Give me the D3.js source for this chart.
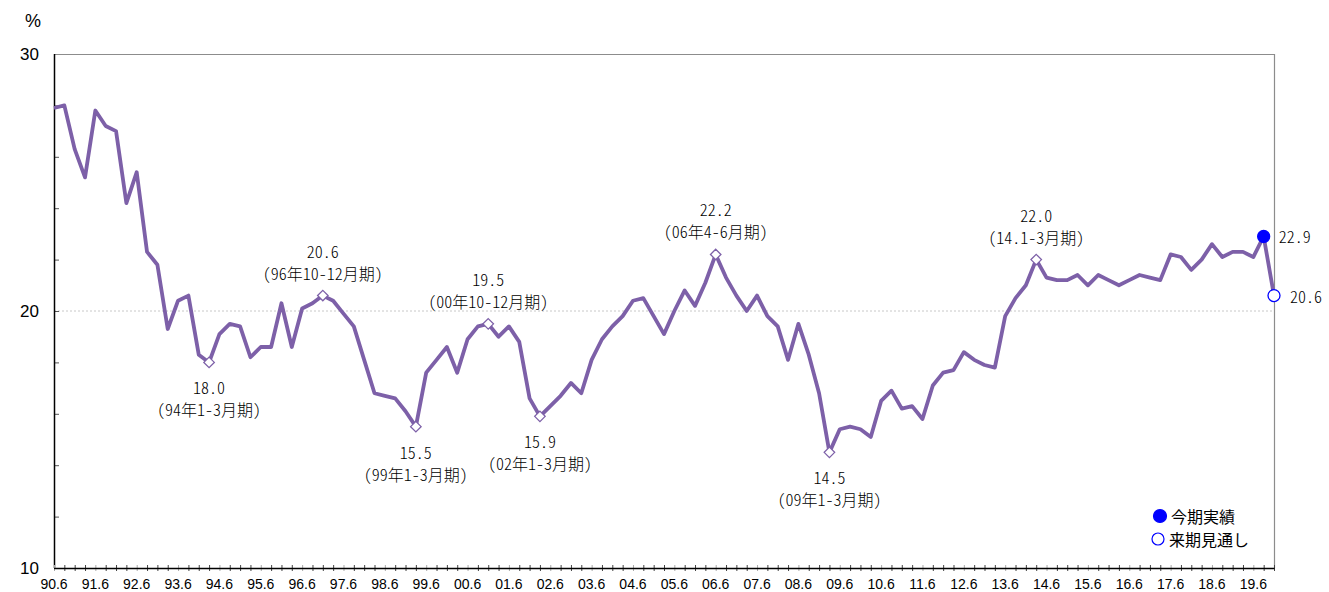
<!DOCTYPE html>
<html>
<head>
<meta charset="utf-8">
<script src="https://cdn.jsdelivr.net/npm/d3@7"></script>
<style>
  body { margin: 0; background: #fff; }
  svg { display: block; }
  .num { font-family: "Liberation Sans", Arial, sans-serif; fill: #000; }
  .ann { font-family: "Noto Sans CJK JP", sans-serif; font-feature-settings: "hwid" 1; font-weight: 300; fill: #000; }
  .jp { font-family: "Noto Sans CJK JP", sans-serif; fill: #000; }
</style>
</head>
<body>
<script>
// Quarterly ratio (%), from 1990 Apr-Jun through the next-quarter outlook
const ratios = [
  27.9, 28.0, 26.3, 25.2, 27.8, 27.2, 27.0, 24.2, 25.4, 22.3,
  21.8, 19.3, 20.4, 20.6, 18.3, 18.0, 19.1, 19.5, 19.4, 18.2,
  18.6, 18.6, 20.3, 18.6, 20.1, 20.3, 20.6, 20.4, 19.9, 19.4,
  18.1, 16.8, 16.7, 16.6, 16.1, 15.5, 17.6, 18.1, 18.6, 17.6,
  18.9, 19.4, 19.5, 19.0, 19.4, 18.8, 16.6, 15.9, 16.3, 16.7,
  17.2, 16.8, 18.1, 18.9, 19.4, 19.8, 20.4, 20.5, 19.8, 19.1,
  20.0, 20.8, 20.2, 21.1, 22.2, 21.3, 20.6, 20.0, 20.6, 19.8,
  19.4, 18.1, 19.5, 18.3, 16.8, 14.5, 15.4, 15.5, 15.4, 15.1,
  16.5, 16.9, 16.2, 16.3, 15.8, 17.1, 17.6, 17.7, 18.4, 18.1,
  17.9, 17.8, 19.8, 20.5, 21.0, 22.0, 21.3, 21.2, 21.2, 21.4,
  21.0, 21.4, 21.2, 21.0, 21.2, 21.4, 21.3, 21.2, 22.2, 22.1,
  21.6, 22.0, 22.6, 22.1, 22.3, 22.3, 22.1, 22.9, 20.6
];

// Axis labels: one per year at the Apr-Jun quarter
const xTickLabels = [
  "90.6", "91.6", "92.6", "93.6", "94.6", "95.6", "96.6", "97.6", "98.6", "99.6",
  "00.6", "01.6", "02.6", "03.6", "04.6", "05.6", "06.6", "07.6", "08.6", "09.6",
  "10.6", "11.6", "12.6", "13.6", "14.6", "15.6", "16.6", "17.6", "18.6", "19.6"
];
const yTickLabels = [10, 20, 30];

// Turning points that carry a value and period note
const peakIndex  = [15, 26, 35, 42, 47, 64, 75, 95];
const peakPeriod = [
  "(94年1-3月期)", "(96年10-12月期)", "(99年1-3月期)", "(00年10-12月期)",
  "(02年1-3月期)", "(06年4-6月期)", "(09年1-3月期)", "(14.1-3月期)"
];

const legendLabels = ["今期実績", "来期見通し"];

const W = 1329, H = 592;
const margin = { left: 54, right: 55, top: 54, bottom: 24 };
const lineColor = "#7D60A8";
const dotColor = "#0000FF";

const svg = d3.select("body").append("svg")
  .attr("width", W).attr("height", H);

const x = d3.scaleLinear()
  .domain([0, ratios.length - 1])
  .range([margin.left, W - margin.right]);
const y = d3.scaleLinear()
  .domain([10, 30])
  .range([H - margin.bottom, margin.top]);

const x0 = x.range()[0], x1 = x.range()[1];
const y0 = y.range()[0], y1 = y.range()[1];

// Dotted reference line at 20%
svg.append("line")
  .attr("x1", x0).attr("x2", x1)
  .attr("y1", y(20)).attr("y2", y(20))
  .attr("stroke", "#c8c8c8").attr("stroke-width", 1)
  .attr("stroke-dasharray", "2,2");

// Frame: top and right in gray
svg.append("path")
  .attr("d", `M${x0},${y1 + 0.5}H${x1 + 0.5}V${y0}`)
  .attr("fill", "none").attr("stroke", "#8c8c8c").attr("stroke-width", 1.2);

// Y axis (minor ticks every 2 points, pointing inward)
const yAxis = d3.axisRight(y)
  .tickValues(d3.range(12, 30, 2))
  .tickSize(5).tickFormat("");
const gy = svg.append("g").attr("transform", `translate(${x0},0)`).call(yAxis);
gy.select(".domain").remove();
gy.selectAll(".tick line").attr("stroke", "#555");
svg.append("line")
  .attr("x1", x0 + 0.5).attr("x2", x0 + 0.5)
  .attr("y1", y1).attr("y2", y0)
  .attr("stroke", "#000").attr("stroke-width", 1.5);

svg.selectAll(".ylab").data(yTickLabels).enter().append("text")
  .attr("class", "num")
  .attr("x", 39).attr("y", d => y(d))
  .attr("text-anchor", "end").attr("dominant-baseline", "central")
  .attr("font-size", 17)
  .text(d => d);

svg.append("text").attr("class", "num")
  .attr("x", 33).attr("y", 21)
  .attr("text-anchor", "middle").attr("dominant-baseline", "central")
  .attr("font-size", 18)
  .text("%");

// X axis: a tick for every quarter, crossing the baseline
const xAxis = d3.axisBottom(x)
  .tickValues(d3.range(0, ratios.length))
  .tickSizeInner(6).tickSizeOuter(0).tickFormat("");
const gx = svg.append("g").attr("transform", `translate(0,${y0 - 3})`).call(xAxis);
gx.select(".domain").remove();
gx.selectAll(".tick line").attr("stroke", d => d % 4 === 0 ? "#aaa" : "#444");
svg.append("line")
  .attr("x1", x0).attr("x2", x1 + 0.5)
  .attr("y1", y0 + 0.5).attr("y2", y0 + 0.5)
  .attr("stroke", "#000").attr("stroke-width", 1.5);

svg.selectAll(".xlab").data(xTickLabels).enter().append("text")
  .attr("class", "num")
  .attr("x", (d, i) => x(i * 4))
  .attr("y", H - 3)
  .attr("text-anchor", "middle")
  .attr("font-size", 14)
  .text(d => d);

// Series line
const line = d3.line()
  .x((d, i) => x(i))
  .y(d => y(d));
svg.append("path")
  .datum(ratios)
  .attr("d", line)
  .attr("fill", "none")
  .attr("stroke", lineColor)
  .attr("stroke-width", 3.8)
  .attr("stroke-linejoin", "round");

// Turning-point markers and notes
const fmt = d3.format(".1f");
const diamond = d3.symbol().type(d3.symbolDiamond2).size(70);
peakIndex.forEach((idx, k) => {
  const v = ratios[idx];
  const isLow = v < ratios[idx - 1] && v < ratios[idx + 1];
  const px = x(idx), py = y(v);
  svg.append("path")
    .attr("d", diamond)
    .attr("transform", `translate(${px},${py})`)
    .attr("fill", "#fff").attr("stroke", lineColor).attr("stroke-width", 1.3);
  const dv = isLow ? 25 : -45;
  const dp = isLow ? 47 : -23;
  svg.append("text").attr("class", "ann")
    .attr("x", px).attr("y", py + dv)
    .attr("text-anchor", "middle").attr("dominant-baseline", "central")
    .attr("font-size", 16)
    .text(fmt(v));
  svg.append("text").attr("class", "ann")
    .attr("x", px).attr("y", py + dp)
    .attr("text-anchor", "middle").attr("dominant-baseline", "central")
    .attr("font-size", 16)
    .text(peakPeriod[k]);
});

// Latest result and next-quarter outlook
const nLast = ratios.length - 1;
const endPoints = [
  { i: nLast - 1, filled: true, dx: 15 },
  { i: nLast, filled: false, dx: 16 }
];
endPoints.forEach(p => {
  svg.append("circle")
    .attr("cx", x(p.i)).attr("cy", y(ratios[p.i])).attr("r", 6)
    .attr("fill", p.filled ? dotColor : "#fff")
    .attr("stroke", dotColor).attr("stroke-width", 1.3);
  svg.append("text").attr("class", "ann")
    .attr("x", x(p.i) + p.dx).attr("y", y(ratios[p.i]))
    .attr("dominant-baseline", "central")
    .attr("font-size", 16)
    .text(fmt(ratios[p.i]));
});

// Legend
const legend = svg.append("g").attr("transform", "translate(1159,516)");
legendLabels.forEach((lab, k) => {
  const g = legend.append("g").attr("transform", `translate(${k === 0 ? 1 : -1},${k * 23})`);
  g.append("circle").attr("r", k === 0 ? 6.5 : 6)
    .attr("fill", k === 0 ? dotColor : "#fff")
    .attr("stroke", dotColor).attr("stroke-width", 1.2);
  g.append("text").attr("class", "jp")
    .attr("x", 11).attr("y", 0)
    .attr("dominant-baseline", "central")
    .attr("font-size", 16)
    .text(lab);
});
</script>
</body>
</html>
